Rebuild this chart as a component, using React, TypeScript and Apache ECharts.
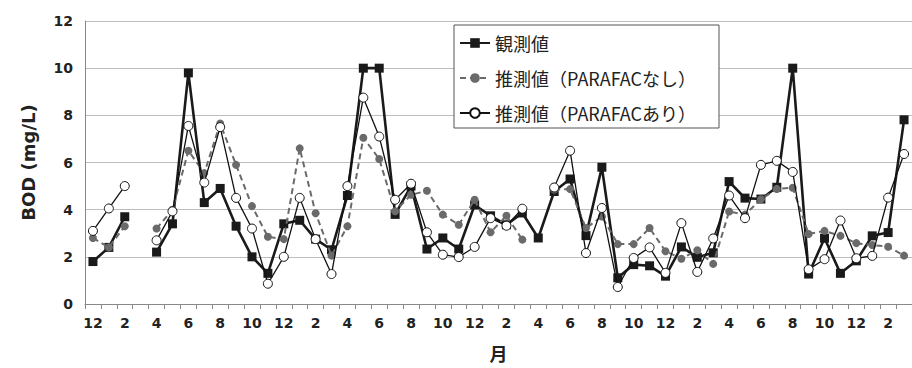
import React, { useEffect, useRef } from "react";
import * as echarts from "echarts";

const months: string[] = Array.from({ length: 52 }, (_, i) => String(((11 + i) % 12) + 1));

const observed: (number | null)[] = [
  1.8, 2.4, 3.7, null, 2.2, 3.4, 9.8, 4.3, 4.9, 3.3,
  2.0, 1.3, 3.4, 3.55, 2.75, 2.3, 4.6, 10.0, 10.0, 3.8,
  5.0, 2.33, 2.8, 2.33, 4.2, 3.74, 3.36, 3.86, 2.8, 4.77,
  5.3, 2.9, 5.8, 1.11, 1.67, 1.62, 1.18, 2.42, 1.98, 2.17,
  5.19, 4.49, 4.45, 4.95, 10.0, 1.27, 2.79, 1.3, 1.83, 2.89,
  3.03, 7.81,
];

const estNoParafac: (number | null)[] = [
  2.8, 2.4, 3.3, null, 3.2, 4.0, 6.5, 5.55, 7.65, 5.9,
  4.15, 2.85, 2.75, 6.6, 3.85, 2.05, 3.3, 7.05, 6.15, 3.93,
  4.63, 4.8, 3.79, 3.36, 4.42, 3.04, 3.74, 2.73, null, 4.85,
  4.87, 3.22, 3.71, 2.54, 2.54, 3.22, 2.24, 1.92, 2.28, 1.7,
  3.92, 3.79, 4.44, 4.88, 4.93, 2.97, 3.1, 2.89, 2.58, 2.5,
  2.43, 2.05,
];

const estParafac: (number | null)[] = [
  3.1, 4.05, 5.0, null, 2.7, 3.93, 7.55, 5.15, 7.5, 4.5,
  3.2, 0.86, 2.0, 4.5, 2.75, 1.27, 5.0, 8.75, 7.1, 4.42,
  5.1, 3.04, 2.09, 1.99, 2.42, 3.64, 3.32, 4.04, null, 4.94,
  6.5, 2.16, 4.07, 0.72, 1.95, 2.4, 1.32, 3.43, 1.36, 2.78,
  4.6, 3.64, 5.9, 6.07, 5.6, 1.47, 1.9, 3.54, 1.94, 2.04,
  4.51, 6.36,
];

const seriesNames = ["観測値", "推測値（PARAFACなし）", "推測値（PARAFACあり）"];

export default function App() {
  const ref = useRef<HTMLDivElement>(null);
  useEffect(() => {
    if (!ref.current) return;
    const chart = echarts.init(ref.current, undefined, { renderer: "svg" });
    const tickFont = {
      fontFamily: "DejaVu Sans",
      fontWeight: "bold" as const,
      fontSize: 14,
      color: "#222",
    };
    chart.setOption({
      animation: false,
      backgroundColor: "#fff",
      grid: { left: 85, top: 21, width: 833, height: 283, containLabel: false },
      xAxis: {
        type: "category",
        data: months,
        boundaryGap: true,
        name: "月",
        nameLocation: "middle",
        nameGap: 40,
        nameTextStyle: {
          fontFamily: "Noto Sans CJK JP",
          fontWeight: "bold",
          fontSize: 18,
          color: "#222",
        },
        axisLine: { lineStyle: { color: "#888", width: 1 } },
        axisTick: { show: true, interval: 0, length: 5, lineStyle: { color: "#888" } },
        axisLabel: { ...tickFont, interval: 1, margin: 12 },
        splitLine: { show: false },
      },
      yAxis: {
        type: "value",
        min: 0,
        max: 12,
        interval: 2,
        name: "BOD (mg/L)",
        nameLocation: "middle",
        nameGap: 48,
        nameTextStyle: {
          fontFamily: "DejaVu Sans",
          fontWeight: "bold",
          fontSize: 18,
          color: "#222",
        },
        axisLine: { show: true, lineStyle: { color: "#888", width: 1 } },
        axisTick: { show: false },
        axisLabel: { ...tickFont, margin: 12 },
        splitLine: { lineStyle: { color: "#bdbdbd", width: 1.2 } },
      },
      legend: {
        orient: "vertical",
        left: 459,
        top: 32,
        padding: 0,
        itemWidth: 30,
        itemHeight: 12,
        itemGap: 13,
        z: 10,
        textStyle: {
          fontFamily: "Noto Sans CJK JP",
          fontSize: 18,
          lineHeight: 22,
          color: "#222",
        },
        data: seriesNames,
      },
      graphic: [
        {
          type: "rect",
          z: 5,
          shape: { x: 454, y: 25, width: 265, height: 103 },
          style: { fill: "#fff", stroke: "#555", lineWidth: 1 },
        },
      ],
      series: [
        {
          name: seriesNames[0],
          type: "line",
          data: observed,
          connectNulls: false,
          symbol: "rect",
          symbolSize: 9,
          itemStyle: { color: "#1a1a1a" },
          lineStyle: { color: "#1a1a1a", width: 2.6 },
          z: 2,
        },
        {
          name: seriesNames[1],
          type: "line",
          data: estNoParafac,
          connectNulls: false,
          symbol: "circle",
          symbolSize: 8,
          itemStyle: { color: "#6a6a6a" },
          lineStyle: { color: "#6a6a6a", width: 2, type: [6, 4] },
          z: 3,
        },
        {
          name: seriesNames[2],
          type: "line",
          data: estParafac,
          connectNulls: false,
          symbol: "circle",
          symbolSize: 9,
          itemStyle: { color: "#fff", borderColor: "#111", borderWidth: 1 },
          lineStyle: { color: "#111", width: 1.3 },
          z: 4,
        },
      ],
    });
    return () => chart.dispose();
  }, []);
  return (
    <div
      ref={ref}
      style={{ position: "fixed", left: 0, top: 0, width: 912, height: 368, background: "#fff" }}
    />
  );
}
